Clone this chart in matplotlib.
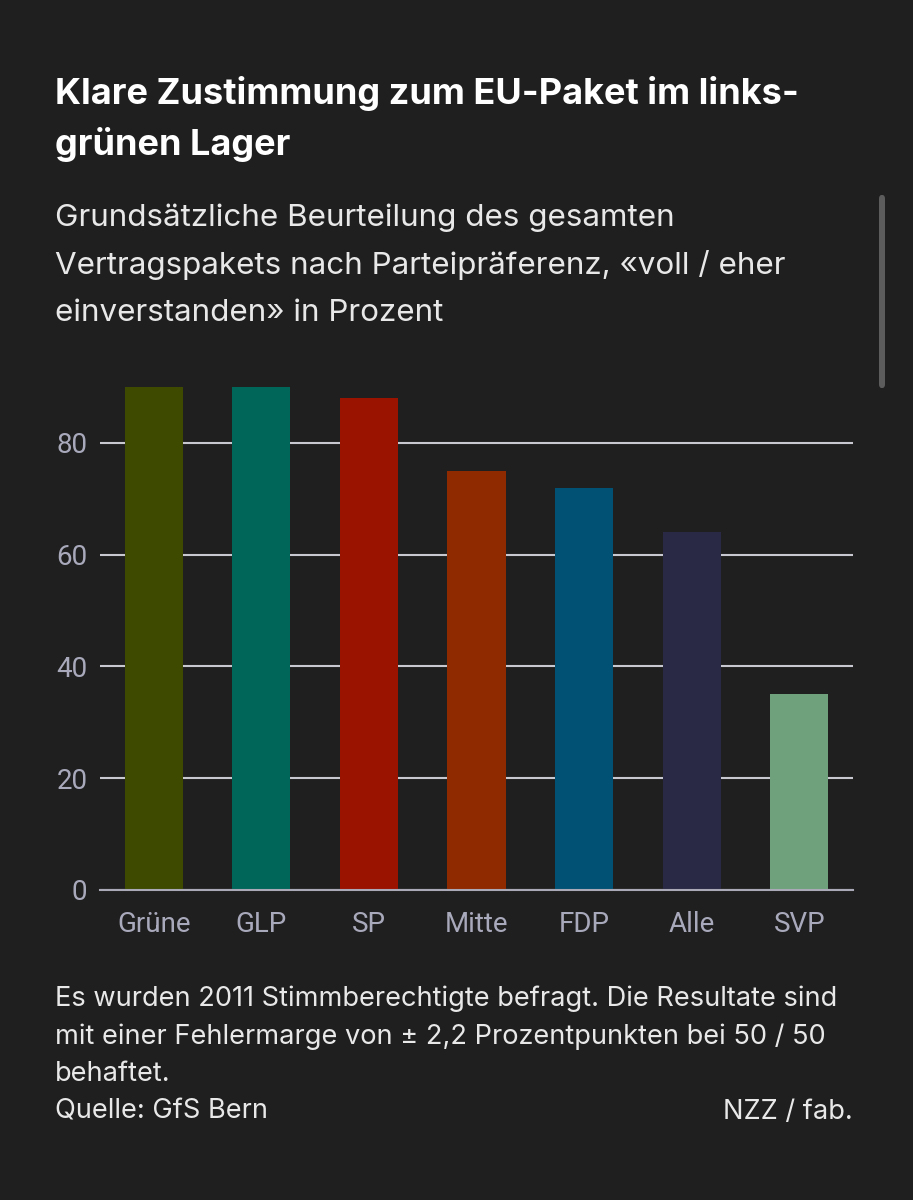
import matplotlib.pyplot as plt
from matplotlib.patches import FancyBboxPatch

# Data
parties = ["Grüne", "GLP", "SP", "Mitte", "FDP", "Alle", "SVP"]
values = [90, 90, 88, 75, 72, 64, 35]
colors = ["#3d4a00", "#00665a", "#9a1200", "#8f2a00", "#005174", "#2a2945", "#6fa27c"]
yticks = [0, 20, 40, 60, 80]

title_lines = ["Klare Zustimmung zum EU-Paket im links-", "grünen Lager"]
subtitle_lines = ["Grundsätzliche Beurteilung des gesamten",
                  "Vertragspakets nach Parteipräferenz, «voll / eher",
                  "einverstanden» in Prozent"]
note_lines = ["Es wurden 2011 Stimmberechtigte befragt. Die Resultate sind",
              "mit einer Fehlermarge von ± 2,2 Prozentpunkten bei 50 / 50",
              "behaftet."]
source = "Quelle: GfS Bern"
credit = "NZZ / fab."

bg = "#1f1f1f"
W, H = 913, 1200
text_font = ["Inter", "DejaVu Sans"]

plt.rcParams['font.family'] = ["Roboto", "DejaVu Sans"]

fig = plt.figure(figsize=(W / 100, H / 100), dpi=100, facecolor=bg)
ax = fig.add_axes([100 / W, 1 - 890 / H, 753 / W, 503 / H], facecolor=bg)

x = range(len(parties))
ax.bar(x, values, width=0.54, color=colors, zorder=2)
ax.set_xlim(-0.5, len(parties) - 0.5)
ax.set_ylim(0, 90)
ax.set_yticks(yticks)
ax.set_xticks(list(x))
ax.set_xticklabels(parties)
ax.yaxis.grid(True, color="#c8c8d0", linewidth=1.5, zorder=1)
ax.set_axisbelow(True)
for s in ["top", "right", "left"]:
    ax.spines[s].set_visible(False)
ax.spines["bottom"].set_color("#a9a9b8")
ax.spines["bottom"].set_linewidth(1.5)
ax.spines["bottom"].set_zorder(3)
ax.tick_params(axis="both", length=0, labelsize=20, labelcolor="#a9a9bc")
ax.tick_params(axis="y", pad=9)
ax.tick_params(axis="x", pad=15)


def lines(items, y0, step, size, color, weight="normal"):
    for i, t in enumerate(items):
        fig.text(55 / W, 1 - (y0 + i * step) / H, t, fontsize=size, color=color,
                 fontweight=weight, va="baseline", ha="left", family=text_font)


lines(title_lines, 104, 51, 26, "white", "bold")
lines(subtitle_lines, 226, 47.5, 22.6, "#e8e8e8")
lines(note_lines, 1006, 37.7, 19.6, "#e8e8e8")
fig.text(55 / W, 1 - 1119 / H, source, fontsize=19.6, color="#e8e8e8",
         va="baseline", ha="left", family=text_font)
fig.text(853 / W, 1 - 1119 / H, credit, fontsize=19.6, color="#e8e8e8",
         va="baseline", ha="right", family=text_font)

# scrollbar indicator
fig.patches.append(FancyBboxPatch((879 / W, 1 - 388 / H), 6 / W, 193 / H,
                                  boxstyle="round,pad=0,rounding_size=0.003",
                                  transform=fig.transFigure, facecolor="#5c5c5c",
                                  edgecolor="none"))

fig.savefig("out.png", dpi=100, facecolor=bg)
